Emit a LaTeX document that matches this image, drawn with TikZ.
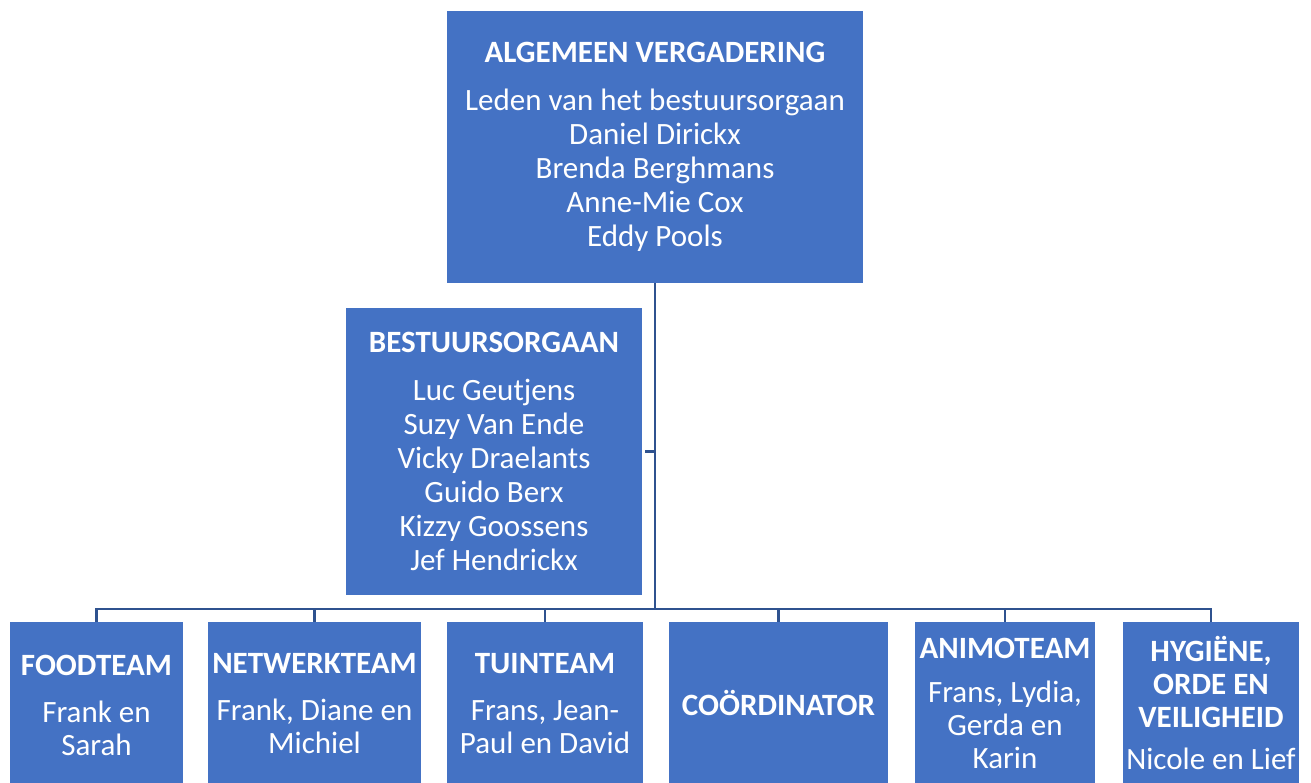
\documentclass[tikz,border=0pt]{standalone}
\usepackage{fontspec}
\setmainfont{Carlito}
\definecolor{boxblue}{HTML}{4472C4}
\definecolor{lineblue}{HTML}{2F528F}
\tikzset{
  orgbox/.style={rectangle, fill=boxblue, draw=none, text=white, align=center, inner sep=0pt,
    font=\fontsize{31}{34}\selectfont},
  lowbox/.style={orgbox, anchor=north, font=\fontsize{31}{33}\selectfont},
  conn/.style={draw=lineblue, line width=2.5pt}
}
\begin{document}
\begin{tikzpicture}[x=1pt, y=-1pt]
\useasboundingbox (0,0) rectangle (1311,782);
\clip (0,0) rectangle (1311,782);
\coordinate (bus) at (0,609);
% top
\node[orgbox, minimum width=416pt, minimum height=272pt] (alg) at (655,147)
  {\textbf{ALGEMEEN VERGADERING}\\[14pt]Leden van het bestuursorgaan\\Daniel Dirickx\\Brenda Berghmans\\Anne-Mie Cox\\Eddy Pools};
\node[orgbox, minimum width=296pt, minimum height=287pt] (best) at (494,451.5)
  {\textbf{BESTUURSORGAAN}\\[14pt]Luc Geutjens\\Suzy Van Ende\\Vicky Draelants\\Guido Berx\\Kizzy Goossens\\Jef Hendrickx};
% bottom row
\node[lowbox, minimum width=173pt, minimum height=167pt] (food) at (96.5,622)
  {\textbf{FOODTEAM}\\[14pt]Frank en\\Sarah};
\node[lowbox, minimum width=213pt, minimum height=162pt] (netw) at (314.5,622)
  {\textbf{NETWERKTEAM}\\[14pt]Frank, Diane en\\Michiel};
\node[lowbox, minimum width=196pt, minimum height=163pt] (tuin) at (545,622)
  {\textbf{TUINTEAM}\\[14pt]Frans, Jean-\\Paul en David};
\node[lowbox, minimum width=219pt, minimum height=162pt] (coord) at (778.5,622)
  {\textbf{COÖRDINATOR}};
\node[lowbox, minimum width=180pt, minimum height=162pt] (animo) at (1005,622)
  {\textbf{ANIMOTEAM}\\[11pt]Frans, Lydia,\\Gerda en\\Karin};
\node[lowbox, minimum width=176pt, minimum height=162pt] (hyg) at (1211,622)
  {\textbf{HYGIËNE,}\\\textbf{ORDE EN}\\\textbf{VEILIGHEID}\\[9pt]Nicole en Lief};
% connectors
\draw[conn, shorten <=3pt] (best.east) -- (best.east -| alg.south);
\foreach \c in {food,netw,tuin,coord,animo,hyg}{
  \draw[conn] (alg.south) -- (alg.south |- bus) -| (\c.north);
}
\end{tikzpicture}
\end{document}
